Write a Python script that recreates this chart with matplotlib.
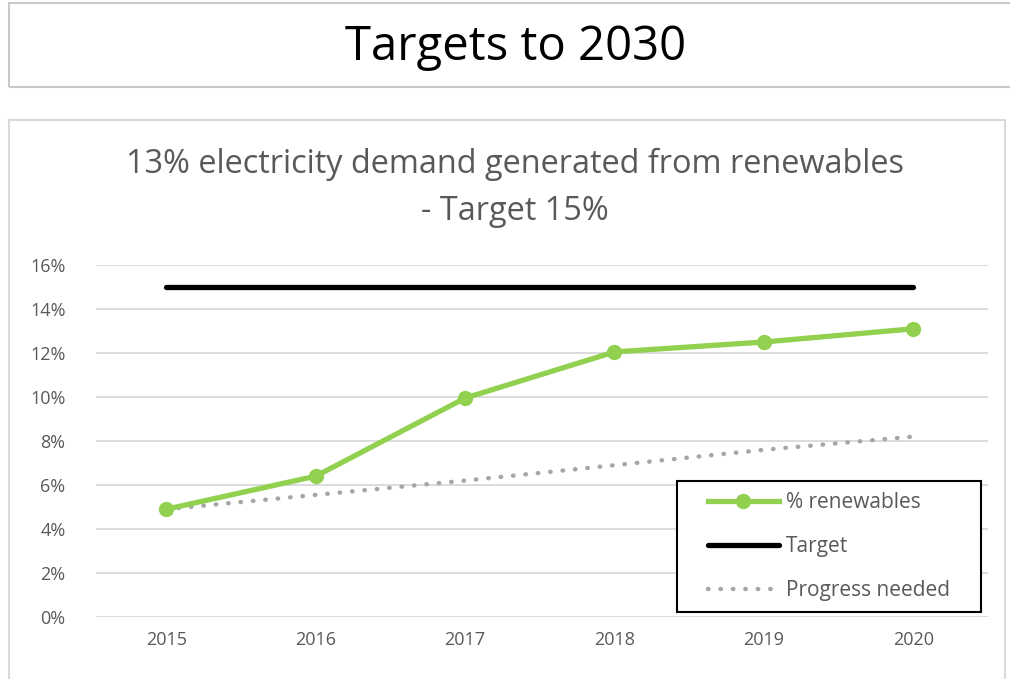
import matplotlib.pyplot as plt
from matplotlib.patches import Rectangle
from matplotlib.ticker import PercentFormatter

years = ["2015", "2016", "2017", "2018", "2019", "2020"]
renewables = [4.9, 6.4, 9.95, 12.05, 12.5, 13.1]
target = [15, 15, 15, 15, 15, 15]
progress_needed = [4.9, 5.55, 6.2, 6.9, 7.6, 8.2]

plt.rcParams['font.family'] = ['Open Sans', 'DejaVu Sans']

W, H = 1010, 679
fig = plt.figure(figsize=(W / 100, H / 100), dpi=100)

# outer boxes (title box and chart box)
fig.patches.append(Rectangle((9 / W, 1 - 87 / H), 1.1, 84 / H, transform=fig.transFigure,
                             fill=False, edgecolor="#c8c8c8", linewidth=1.5))
fig.patches.append(Rectangle((9 / W, -0.1), 996 / W, 0.1 + 1 - 120 / H, transform=fig.transFigure,
                             fill=False, edgecolor="#d9d9d9", linewidth=1.5))
fig.text(0.51, 1 - 47 / H, "Targets to 2030", ha="center", va="center", fontsize=34, color="black")

ax = fig.add_axes([96 / W, 1 - 617 / H, (988 - 96) / W, (617 - 265) / H])
x = range(len(years))
ax.plot(x, renewables, color="#92D050", lw=3.8, marker="o", ms=10, label="% renewables", zorder=4)
ax.plot(x, target, color="black", lw=3.8, solid_capstyle="round", label="Target", zorder=3)
ax.plot(x, progress_needed, color="#A6A6A6", lw=3.2, linestyle=(0, (0.1, 2.7)),
        dash_capstyle="round", label="Progress needed", zorder=2)

ax.set_xlim(-0.47, 5.5)
ax.set_ylim(0, 16)
ax.set_yticks(range(0, 17, 2))
ax.yaxis.set_major_formatter(PercentFormatter(decimals=0))
ax.set_xticks(list(x))
ax.set_xticklabels(years)
ax.grid(axis="y", color="#d9d9d9", lw=1.3)
ax.set_axisbelow(True)
for s in ax.spines.values():
    s.set_visible(False)
ax.tick_params(length=0, labelsize=13, labelcolor="#595959", pad=10)
ax.tick_params(axis="y", pad=22)

fig.text(0.51, 1 - 188 / H, "13% electricity demand generated from renewables\n- Target 15%",
         ha="center", va="center", fontsize=23.4, color="#595959", linespacing=1.55)

# legend box drawn separately so the side padding can be wider than the top/bottom
lx0, lx1, ly0, ly1 = 677, 981, 481, 612
fig.patches.append(Rectangle((lx0 / W, 1 - ly1 / H), (lx1 - lx0) / W, (ly1 - ly0) / H,
                             transform=fig.transFigure, facecolor="white",
                             edgecolor="black", linewidth=1.5, zorder=5))
leg = fig.legend(loc="center", bbox_to_anchor=((lx0 + lx1) / 2 / W, 1 - (ly0 + ly1) / 2 / H),
                 frameon=False, fontsize=15, labelcolor="#595959",
                 handlelength=3.4, labelspacing=1.1, borderpad=0,
                 handletextpad=0.35, borderaxespad=0)
leg.set_zorder(6)

fig.savefig("out.png", dpi=100)
